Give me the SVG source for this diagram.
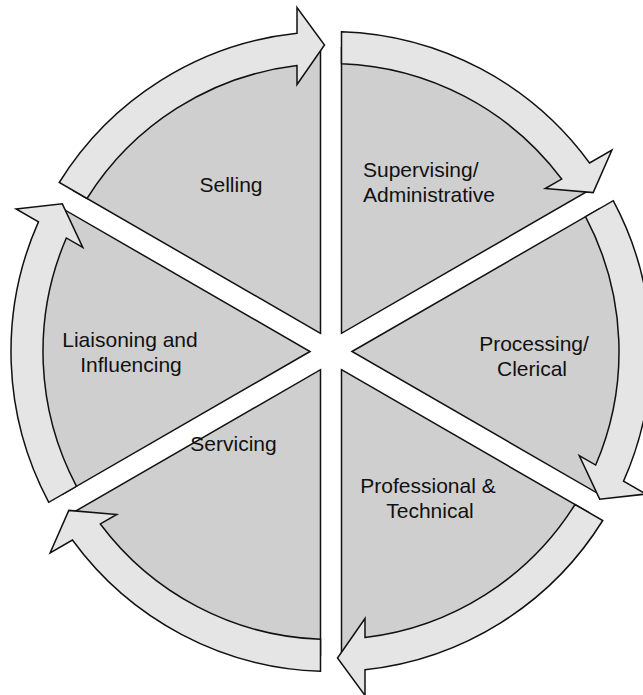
<svg xmlns="http://www.w3.org/2000/svg" xmlns:xlink="http://www.w3.org/1999/xlink" width="643" height="695" viewBox="0 0 643 695">
  <style>
    .sector { fill: #cfcfcf; stroke: #111; stroke-width: 1.5; stroke-linejoin: miter; }
    .band { fill: #e5e5e5; stroke: #111; stroke-width: 1.5; stroke-linejoin: miter; }
    .label { font-family: "Liberation Sans", Arial, Helvetica, sans-serif; font-size: 21px; fill: #111; }
    .mid { text-anchor: middle; }
  </style>
  <defs>
    <!-- One wedge of the wheel (spanning -150deg to -90deg), centred on the origin -->
    <path id="sector" d="M -10.5,-18.19 L -257.87,-161.0 A 304 304 0 0 1 -10.5,-303.82 Z"/>
    <!-- Curved arrow band on the rim of the same wedge, head pointing clockwise -->
    <path id="band" d="M -271.73,-169.01 A 320 320 0 0 1 -34,-318.19 L -34,-344 L -6.5,-306.5 L -34,-267 L -34,-285.99 A 288 288 0 0 0 -244,-153 Z"/>
  </defs>

  <g id="selling">
    <use xlink:href="#sector" class="sector" transform="translate(331 351.5)"/>
    <use xlink:href="#band" class="band" transform="translate(331 351.5)"/>
    <text class="label mid" x="231" y="192">Selling</text>
  </g>

  <g id="supervising">
    <use xlink:href="#sector" class="sector" transform="translate(331 351.5) rotate(60)"/>
    <use xlink:href="#band" class="band" transform="translate(331 351.5) rotate(60)"/>
    <text class="label" y="177"><tspan x="363">Supervising/</tspan><tspan x="363" dy="25">Administrative</tspan></text>
  </g>

  <g id="processing">
    <use xlink:href="#sector" class="sector" transform="translate(331 351.5) rotate(120)"/>
    <use xlink:href="#band" class="band" transform="translate(331 351.5) rotate(120)"/>
    <text class="label mid" y="351"><tspan x="534">Processing/</tspan><tspan x="532" dy="25">Clerical</tspan></text>
  </g>

  <g id="professional">
    <use xlink:href="#sector" class="sector" transform="translate(331 351.5) rotate(180)"/>
    <use xlink:href="#band" class="band" transform="translate(331 351.5) rotate(180)"/>
    <text class="label mid" y="493"><tspan x="428">Professional &amp;</tspan><tspan x="430" dy="25">Technical</tspan></text>
  </g>

  <g id="servicing">
    <use xlink:href="#sector" class="sector" transform="translate(331 351.5) rotate(240)"/>
    <use xlink:href="#band" class="band" transform="translate(331 351.5) rotate(240)"/>
    <text class="label mid" x="233.5" y="451">Servicing</text>
  </g>

  <g id="liaisoning">
    <use xlink:href="#sector" class="sector" transform="translate(331 351.5) rotate(300)"/>
    <use xlink:href="#band" class="band" transform="translate(331 351.5) rotate(300)"/>
    <text class="label mid" y="347"><tspan x="130">Liaisoning and</tspan><tspan x="131" dy="25">Influencing</tspan></text>
  </g>

  <!-- The arrows are part of each wedge's band; no separate connectors -->
  <g id="connectors"/>
</svg>
